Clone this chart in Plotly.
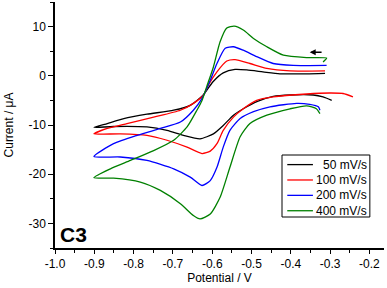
import plotly.graph_objects as go

# ---- data (potential in V, current in uA) ----
pot_50 = [-0.313, -0.36, -0.428, -0.471, -0.512, -0.542, -0.572, -0.598, -0.624, -0.656, -0.698, -0.766, -0.825, -0.867, -0.901,
          -0.851, -0.766, -0.715, -0.673, -0.631, -0.597, -0.572, -0.546, -0.521, -0.485, -0.445, -0.402, -0.343, -0.318, -0.296]
cur_50 = [0.5, 0.4, 0.4, 0.8, 1.2, 1.3, 0.6, -1.2, -4.0, -6.0, -7.0, -7.8, -8.7, -9.7, -10.5,
          -10.3, -10.4, -11.1, -12.1, -12.8, -11.8, -10.1, -8.0, -6.7, -5.2, -4.2, -3.9, -3.9, -4.3, -5.0]

pot_100 = [-0.313, -0.402, -0.461, -0.504, -0.542, -0.563, -0.588, -0.61, -0.622, -0.648, -0.681, -0.749, -0.817, -0.867, -0.901,
           -0.834, -0.766, -0.715, -0.664, -0.626, -0.605, -0.588, -0.572, -0.546, -0.521, -0.487, -0.445, -0.36, -0.301, -0.267, -0.242]
cur_100 = [1.0, 1.0, 1.5, 2.5, 3.3, 3.0, 0.8, -1.9, -3.9, -5.6, -7.0, -8.4, -9.7, -10.7, -11.8,
           -11.8, -12.1, -13.1, -14.5, -15.8, -15.3, -13.8, -11.1, -8.4, -6.7, -5.0, -4.3, -3.7, -3.5, -3.6, -4.3]

pot_200 = [-0.309, -0.394, -0.445, -0.487, -0.521, -0.546, -0.567, -0.588, -0.605, -0.626, -0.648, -0.681, -0.732, -0.791, -0.851, -0.901,
           -0.834, -0.766, -0.698, -0.656, -0.626, -0.605, -0.588, -0.572, -0.555, -0.529, -0.495, -0.453, -0.385, -0.352, -0.33, -0.326]
cur_200 = [2.1, 2.1, 2.5, 3.9, 5.2, 5.9, 5.6, 2.5, -0.9, -4.6, -7.0, -9.4, -10.7, -12.1, -13.8, -16.4,
           -16.5, -17.2, -18.9, -20.6, -22.3, -21.3, -18.6, -14.5, -11.1, -8.7, -7.3, -6.3, -5.6, -5.8, -6.3, -7.0]

pot_400 = [-0.318, -0.309, -0.36, -0.419, -0.461, -0.495, -0.521, -0.544, -0.563, -0.58, -0.597, -0.614, -0.626, -0.639, -0.664, -0.698, -0.749, -0.808, -0.859, -0.901,
           -0.851, -0.783, -0.732, -0.681, -0.648, -0.631, -0.605, -0.58, -0.555, -0.529, -0.504, -0.461, -0.402, -0.36, -0.335, -0.326]
cur_400 = [2.8, 3.6, 3.7, 4.2, 5.9, 7.6, 9.3, 10.1, 9.7, 6.9, 1.8, -2.2, -5.0, -7.0, -10.4, -13.1, -15.2, -17.2, -18.9, -20.7,
           -20.8, -21.6, -23.3, -26.0, -28.4, -29.1, -28.1, -24.7, -18.6, -12.4, -9.7, -8.0, -6.7, -6.1, -6.7, -7.7]

series_names = ["50 mV/s", "100 mV/s", "200 mV/s", "400 mV/s"]
series_colors = ["#000000", "#ff0000", "#0000ff", "#008000"]

x_tickvals = [-1.0, -0.9, -0.8, -0.7, -0.6, -0.5, -0.4, -0.3, -0.2]
x_ticktext = ["-1.0", "-0.9", "-0.8", "-0.7", "-0.6", "-0.5", "-0.4", "-0.3", "-0.2"]
y_tickvals = [-30, -20, -10, 0, 10]
y_ticktext = ["-30", "-20", "-10", "0", "10"]

FONT = "Liberation Sans, Arial, sans-serif"

fig = go.Figure()
for p, c, n, col in zip([pot_50, pot_100, pot_200, pot_400],
                        [cur_50, cur_100, cur_200, cur_400],
                        series_names, series_colors):
    fig.add_trace(go.Scatter(x=p, y=c, mode="lines", name=n, showlegend=False,
                             line=dict(color=col, width=1.3, shape="spline", smoothing=0.6)))

fig.update_layout(
    width=387, height=288,
    margin=dict(l=55, r=3, t=2, b=40, autoexpand=False),
    paper_bgcolor="white", plot_bgcolor="white",
    font=dict(family=FONT, size=12, color="black"),
    showlegend=False,
    xaxis=dict(range=[-1.0, -0.163], tickmode="array", tickvals=x_tickvals, ticktext=x_ticktext,
               automargin=False,
               showgrid=False, zeroline=False, showline=True, linecolor="black", linewidth=1.5,
               ticks="outside", ticklen=4, tickwidth=1, tickcolor="black",
               minor=dict(tickmode="linear", tick0=-1.0, dtick=0.05, ticks="outside", ticklen=3, tickcolor="black"),
               title=dict(text="Potential / V", font=dict(size=12), standoff=0)),
    yaxis=dict(range=[-35, 15], tickmode="array", tickvals=y_tickvals, ticktext=y_ticktext,
               automargin=False,
               showgrid=False, zeroline=False, showline=True, linecolor="black", linewidth=1.5,
               ticks="outside", ticklen=5, tickwidth=1, tickcolor="black",
               minor=dict(tickmode="linear", tick0=-35, dtick=5, ticks="outside", ticklen=3, tickcolor="black"),
               title=dict(text="Current / μA", font=dict(size=12), standoff=12)),
)

# ---- legend box (compact, as in the reference) ----
fig.add_shape(type="rect", xref="paper", yref="paper", x0=0.690, x1=0.957, y0=0.126, y1=0.378,
              line=dict(color="black", width=1), fillcolor="white", layer="above")
leg_top, leg_step = 0.339, 0.0625
for i, (n, col) in enumerate(zip(series_names, series_colors)):
    yy = leg_top - i * leg_step
    fig.add_shape(type="line", xref="paper", yref="paper", x0=0.706, x1=0.784, y0=yy, y1=yy,
                  line=dict(color=col, width=1.3), layer="above")
    fig.add_annotation(text=n, xref="paper", yref="paper", x=0.953, y=yy,
                       xanchor="right", yanchor="middle", showarrow=False,
                       font=dict(family=FONT, size=12, color="black"))

fig.add_annotation(text="<b>C3</b>", xref="paper", yref="paper", x=0.008, y=0.055,
                   xanchor="left", yanchor="middle", showarrow=False,
                   font=dict(family=FONT, size=21, color="black"))

fig.add_annotation(x=-0.352, y=4.8, ax=-0.318, ay=4.8, xref="x", yref="y", axref="x", ayref="y",
                   text="", showarrow=True, arrowhead=2, arrowsize=0.8, arrowwidth=1.5, arrowcolor="black")

fig.write_html("out.html", post_script="document.body.style.margin='0';",
               config={"displayModeBar": False})
